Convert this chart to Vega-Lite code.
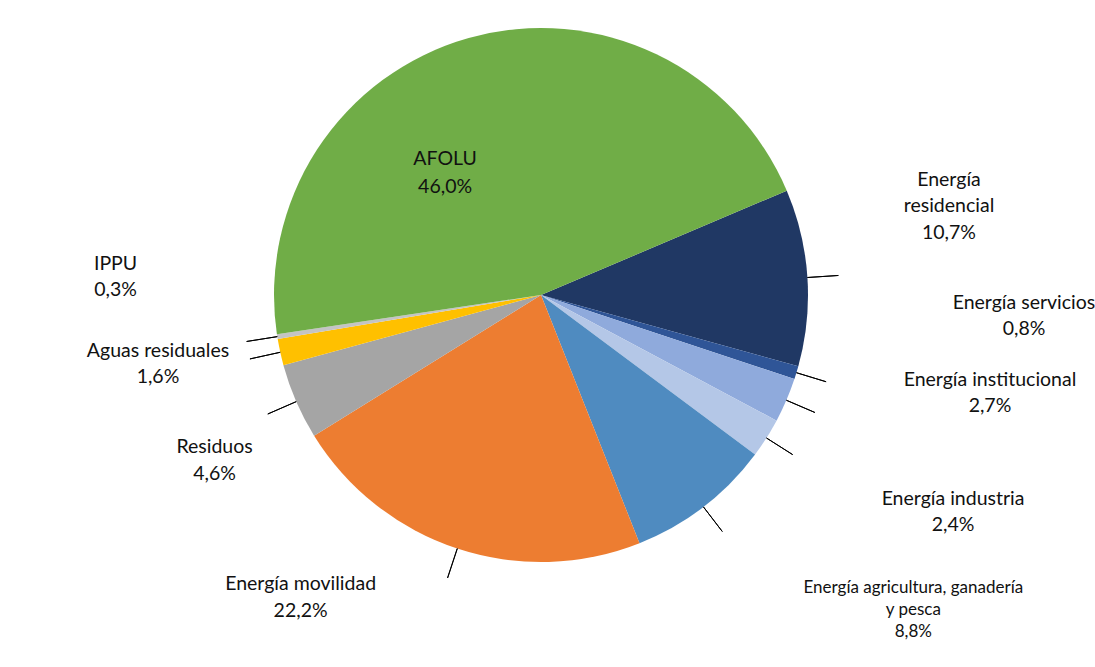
{
  "$schema": "https://vega.github.io/schema/vega-lite/v6.json",
  "width": 1082,
  "height": 590,
  "autosize": {"type": "none"},
  "padding": {"left": 0, "top": 0, "right": 13, "bottom": 77},
  "background": "white",
  "config": {"view": {"stroke": null}, "text": {"font": "Lato", "fontSize": 19.5, "color": "#111111"}},
  "data": {
    "values": [
      {"sector": "Energía residencial", "value": 10.7, "label": ["Energía", "residencial", "10,7%"]},
      {"sector": "Energía servicios", "value": 0.8, "label": ["Energía servicios", "0,8%"]},
      {"sector": "Energía institucional", "value": 2.7, "label": ["Energía institucional", "2,7%"]},
      {"sector": "Energía industria", "value": 2.4, "label": ["Energía industria", "2,4%"]},
      {"sector": "Energía agricultura, ganadería y pesca", "value": 8.8, "label": ["Energía agricultura, ganadería", "y pesca", "8,8%"]},
      {"sector": "Energía movilidad", "value": 22.2, "label": ["Energía movilidad", "22,2%"]},
      {"sector": "Residuos", "value": 4.6, "label": ["Residuos", "4,6%"]},
      {"sector": "Aguas residuales", "value": 1.6, "label": ["Aguas residuales", "1,6%"]},
      {"sector": "IPPU", "value": 0.3, "label": ["IPPU", "0,3%"]},
      {"sector": "AFOLU", "value": 46.0, "label": ["AFOLU", "46,0%"]}
    ]
  },
  "transform": [
    {"stack": "value", "groupby": [], "as": ["v0", "v1"]},
    {"calculate": "(datum.v0 + datum.v1) / 2", "as": "mid"}
  ],
  "encoding": {
    "theta": {"type": "quantitative", "scale": {"domain": [0, 100.1], "range": [1.1694, 7.4526]}}
  },
  "layer": [
    {
      "mark": {"type": "arc", "radius": 267},
      "encoding": {
        "theta": {"field": "v0", "type": "quantitative", "scale": {"domain": [0, 100.1], "range": [1.1694, 7.4526]}},
        "theta2": {"field": "v1"},
        "color": {
          "field": "sector", "type": "nominal", "legend": null,
          "scale": {
            "domain": ["Energía residencial", "Energía servicios", "Energía institucional", "Energía industria", "Energía agricultura, ganadería y pesca", "Energía movilidad", "Residuos", "Aguas residuales", "IPPU", "AFOLU"],
            "range": ["#203864", "#2F5597", "#8FAADC", "#B4C7E7", "#4F8BC0", "#ED7D31", "#A5A5A5", "#FFC000", "#C4C4C4", "#70AD47"]
          }
        }
      }
    },
    {
      "mark": {"type": "arc", "radius": 298, "radius2": 267, "filled": false, "stroke": "#000000", "strokeWidth": 1},
      "encoding": {
        "theta": {"field": "mid", "type": "quantitative", "scale": {"domain": [0, 100.1], "range": [1.1694, 7.4526]}},
        "theta2": {"field": "mid"}
      },
      "transform": [{"filter": "datum.sector !== 'AFOLU'"}]
    },
    {
      "transform": [{"filter": "datum.sector === 'AFOLU'"}],
      "mark": {"type": "text", "radius": 161.6, "thetaOffset": -0.361, "align": "center", "baseline": "alphabetic", "lineHeight": 28},
      "encoding": {"theta": {"field": "mid", "type": "quantitative"}, "text": {"field": "label"}}
    },
    {
      "transform": [{"filter": "datum.sector === 'Energía residencial'"}],
      "mark": {"type": "text", "radius": 422.3, "thetaOffset": -0.1955, "align": "center", "baseline": "alphabetic", "lineHeight": 26.3},
      "encoding": {"theta": {"field": "mid", "type": "quantitative"}, "text": {"field": "label"}}
    },
    {
      "transform": [{"filter": "datum.sector === 'Energía servicios'"}],
      "mark": {"type": "text", "radius": 483.2, "thetaOffset": -0.2663, "align": "center", "baseline": "alphabetic", "lineHeight": 26.3},
      "encoding": {"theta": {"field": "mid", "type": "quantitative"}, "text": {"field": "label"}}
    },
    {
      "transform": [{"filter": "datum.sector === 'Energía institucional'"}],
      "mark": {"type": "text", "radius": 458.1, "thetaOffset": -0.2053, "align": "center", "baseline": "alphabetic", "lineHeight": 26.5},
      "encoding": {"theta": {"field": "mid", "type": "quantitative"}, "text": {"field": "label"}}
    },
    {
      "transform": [{"filter": "datum.sector === 'Energía industria'"}],
      "mark": {"type": "text", "radius": 462.4, "thetaOffset": -0.0942, "align": "center", "baseline": "alphabetic", "lineHeight": 26.5},
      "encoding": {"theta": {"field": "mid", "type": "quantitative"}, "text": {"field": "label"}}
    },
    {
      "transform": [{"filter": "datum.sector === 'Energía agricultura, ganadería y pesca'"}],
      "mark": {"type": "text", "radius": 477.0, "thetaOffset": -0.2416, "align": "center", "baseline": "alphabetic", "lineHeight": 22, "fontSize": 17},
      "encoding": {"theta": {"field": "mid", "type": "quantitative"}, "text": {"field": "label"}}
    },
    {
      "transform": [{"filter": "datum.sector === 'Energía movilidad'"}],
      "mark": {"type": "text", "radius": 380.6, "thetaOffset": 0.3648, "align": "center", "baseline": "alphabetic", "lineHeight": 26.5},
      "encoding": {"theta": {"field": "mid", "type": "quantitative"}, "text": {"field": "label"}}
    },
    {
      "transform": [{"filter": "datum.sector === 'Residuos'"}],
      "mark": {"type": "text", "radius": 362.7, "thetaOffset": -0.0401, "align": "center", "baseline": "alphabetic", "lineHeight": 27},
      "encoding": {"theta": {"field": "mid", "type": "quantitative"}, "text": {"field": "label"}}
    },
    {
      "transform": [{"filter": "datum.sector === 'Aguas residuales'"}],
      "mark": {"type": "text", "radius": 388, "thetaOffset": 0.0559, "align": "center", "baseline": "alphabetic", "lineHeight": 26.5},
      "encoding": {"theta": {"field": "mid", "type": "quantitative"}, "text": {"field": "label"}}
    },
    {
      "transform": [{"filter": "datum.sector === 'IPPU'"}],
      "mark": {"type": "text", "radius": 426.2, "thetaOffset": 0.2164, "align": "center", "baseline": "alphabetic", "lineHeight": 26.5},
      "encoding": {"theta": {"field": "mid", "type": "quantitative"}, "text": {"field": "label"}}
    }
  ]
}
